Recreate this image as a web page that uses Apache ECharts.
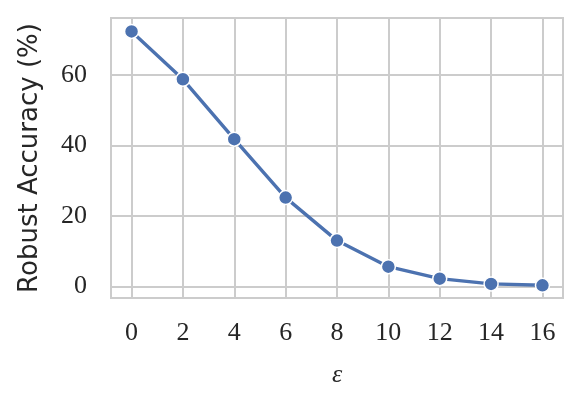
<!DOCTYPE html>
<html>
<head>
<meta charset="utf-8">
<script src="https://cdn.jsdelivr.net/npm/echarts@6/dist/echarts.min.js"></script>
<style>
  html, body { margin: 0; padding: 0; background: #fff; }
  #chart { width: 581px; height: 404px; }
</style>
</head>
<body>
<div id="chart"></div>
<script>
// data
var epsilons = [0, 2, 4, 6, 8, 10, 12, 14, 16];
var robustAcc = [72.4, 58.8, 41.8, 25.2, 13.0, 5.6, 2.2, 0.7, 0.3];
var xTicks = [0, 2, 4, 6, 8, 10, 12, 14, 16];
var yTicks = [0, 20, 40, 60];

var gridColor = "#cccccc";
var serif = "Liberation Serif";

var chart = echarts.init(document.getElementById("chart"), null, { renderer: "canvas" });
chart.setOption({
  animation: false,
  grid: {
    left: 111, right: 18, top: 18, bottom: 106,
    show: true, borderColor: gridColor, borderWidth: 2,
  },
  xAxis: {
    type: "value",
    min: -0.8, max: 16.8,
    name: "ε",
    nameLocation: "middle",
    nameGap: 64,
    nameTextStyle: { fontFamily: serif, fontStyle: "italic", fontSize: 26, color: "#262626" },
    axisLine: { show: true, lineStyle: { color: gridColor, width: 2 } },
    axisTick: { show: false, customValues: xTicks },
    axisLabel: { customValues: xTicks, margin: 22, fontFamily: serif, fontSize: 26, color: "#262626" },
    splitLine: { show: true, lineStyle: { color: gridColor, width: 2 } },
  },
  yAxis: {
    type: "value",
    min: -3.3, max: 76.2,
    name: "Robust Accuracy (%)",
    nameLocation: "middle",
    nameGap: 68,
    nameTextStyle: { fontFamily: "DejaVu Sans", fontSize: 26, color: "#262626" },
    axisLine: { show: true, lineStyle: { color: gridColor, width: 2 } },
    axisTick: { show: false, customValues: yTicks },
    axisLabel: { customValues: yTicks, margin: 24, fontFamily: serif, fontSize: 26, color: "#262626" },
    splitLine: { show: true, lineStyle: { color: gridColor, width: 2 } },
  },
  series: [
    {
      type: "line",
      data: epsilons.map(function (e, i) { return [e, robustAcc[i]]; }),
      symbol: "circle",
      symbolSize: 14,
      lineStyle: { color: "#4c72b0", width: 3.4 },
      itemStyle: { color: "#4c72b0", borderColor: "#ffffff", borderWidth: 1.5 },
      z: 5,
    },
  ],
});
</script>
</body>
</html>
